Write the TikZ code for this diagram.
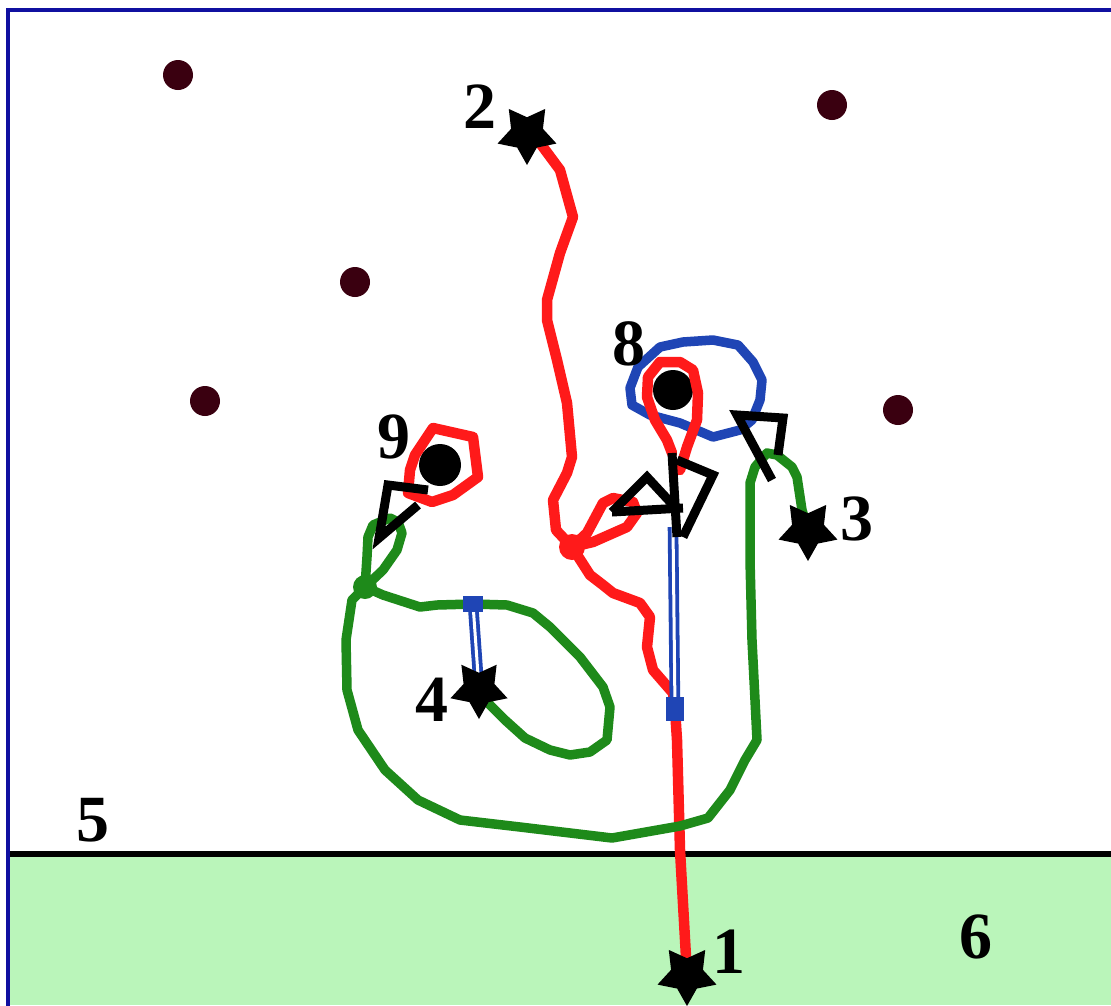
\documentclass[tikz,border=0pt]{standalone}
\usepackage{fontspec}
\setmainfont{Liberation Serif}
\usetikzlibrary{shapes.geometric}
\definecolor{framecol}{HTML}{1010A0}
\definecolor{redp}{HTML}{FF1A1A}
\definecolor{greenp}{HTML}{1E8A1A}
\definecolor{bluep}{HTML}{1F45B5}
\definecolor{dotcol}{HTML}{3A0010}
\definecolor{ground}{HTML}{BAF5BA}
\begin{document}
\begin{tikzpicture}[x=1pt,y=-1pt,
  starnode/.style={star, star points=5, star point ratio=1.85, shape border rotate=180, fill=black, minimum size=62pt, inner sep=0pt},
  numlab/.style={font=\fontsize{66}{66}\selectfont\bfseries, inner sep=0pt},
  smalldot/.style={circle, fill=dotcol, minimum size=30pt, inner sep=0pt},
  bigdot/.style={circle, fill=black, minimum size=40pt, inner sep=0pt},
  redline/.style={draw=redp, line width=10.5pt, line join=round, line cap=round},
  greenline/.style={draw=greenp, line width=9.5pt, line join=round, line cap=round},
  blueline/.style={draw=bluep, line width=9.5pt, line join=round, line cap=round},
  blackline/.style={draw=black, line width=9pt, line join=miter, line cap=butt},
  doubleblue/.style={draw=bluep, line width=3.8pt, double=white, double distance=3pt}
]
\useasboundingbox (0,0) rectangle (1111,1005);
\fill[white] (0,0) rectangle (1111,1005);
% ground
\fill[ground] (8,854) rectangle (1111,1005);
\draw[black, line width=6pt] (8,854) -- (1111,854);
% frame
\draw[framecol, line width=4pt] (8,1010) -- (8,10) -- (1120,10);

% positions
\coordinate (c1) at (687,975);
\coordinate (c2) at (527,134);
\coordinate (c3) at (808,530);
\coordinate (c4) at (479,689);
\coordinate (kr) at (572,547);
\coordinate (kg) at (365,587);
\coordinate (kb1) at (473,604);
\coordinate (kb2) at (675,709);
\coordinate (top8) at (673,527);
\coordinate (ab) at (672,453);

% small dark dots
\node[smalldot] (p1) at (178,75) {};
\node[smalldot] (p2) at (832,105) {};
\node[smalldot] (p3) at (355,282) {};
\node[smalldot] (p4) at (205,401) {};
\node[smalldot] (p5) at (898,410) {};
% big black dots
\node[bigdot] (d8) at (673,390) {};
\node[bigdot, minimum size=42pt] (d9) at (440,465) {};

% blue loop around 8
\draw[blueline] (630,388) -- (638,367) -- (660,347) -- (683,342) -- (713,340) -- (738,345) -- (753,362) -- (762,380) -- (760,400) -- (752,420) -- (740,430) -- (713,437) -- (680,423) -- (650,415) -- (632,405) -- cycle;

% red loop around 9
\draw[redline] (410,470) -- (415,455) -- (433,428) -- (473,437) -- (478,477) -- (453,495) -- (432,502) -- (408,493) -- cycle;

% red teardrop around 8
\draw[redline] (ab) -- (667,440) -- (655,420) -- (647,397) -- (648,377) -- (660,362) -- (680,362) -- (693,370) -- (698,393) -- (697,420) -- (687,447) -- (680,470);

% main red path
\draw[redline] (c2) -- (540,143) -- (560,170) -- (573,217) -- (560,253) -- (547,300) -- (547,320) -- (557,360) -- (567,403) -- (572,457) -- (567,473) -- (553,500) -- (556,530) -- (kr)
  -- (590,575) -- (603,585) -- (613,593) -- (640,603) -- (650,617) -- (647,647) -- (653,670) -- (673,693) -- (kb2) -- (677,740) -- (680,850) -- (c1);
% red loop at knot
\draw[redline] (kr) -- (587,533) -- (603,503) -- (613,498) -- (633,502) -- (637,513) -- (627,527) -- (593,542) -- cycle;
\fill[redp] (kr) circle (13pt);

% green path
\draw[greenline] (c3) -- (802,510) -- (797,477) -- (792,467) -- (777,455) -- (767,453) -- (755,467) -- (750,483) -- (750,560) -- (752,640) -- (755,700) -- (757,740) -- (745,760) -- (730,790) -- (708,818) -- (680,826) -- (612,838) -- (520,827) -- (460,820) -- (418,800) -- (385,770) -- (358,730) -- (347,690) -- (346,640) -- (352,600) -- (kg)
  -- (383,595) -- (420,607) -- (437,605) -- (kb1) -- (507,605) -- (533,613) -- (550,627) -- (580,657) -- (603,687) -- (610,707) -- (607,740) -- (590,752) -- (570,755) -- (550,750) -- (525,738) -- (505,720) -- (490,705) -- (c4);
% green loop at knot
\draw[greenline] (kg) -- (367,557) -- (368,537) -- (373,525) -- (390,518) -- (398,522) -- (402,533) -- (397,550) -- (383,570) -- cycle;
\fill[greenp] (kg) circle (12pt);

% double blue lines
\draw[doubleblue] (kb1) -- (c4);
\draw[doubleblue] (kb2) -- (top8);
\fill[bluep] (kb1) ++(-10,-8) rectangle ++(20,16);
\fill[bluep] (kb2) ++(-9,-12) rectangle ++(18,24);

% black arrow marks
\draw[blackline] (612,512) -- (647,477) -- (673,505);
\draw[blackline] (612,512) -- (683,508);
\draw[blackline] (ab) -- (677,537);
\draw[blackline] (677,460) -- (713,475) -- (683,537);
\draw[blackline] (778,455) -- (783,418) -- (737,415) -- (772,480);
\draw[blackline] (428,490) -- (388,485) -- (379,538) -- (418,505);

% stars
\node[starnode] (s1) at (c1) {};
\node[starnode] (s2) at (c2) {};
\node[starnode] (s3) at (c3) {};
\node[starnode, minimum size=60pt] (s4) at (c4) {};

% labels
\node[numlab] (l1) at (729,952) {1};
\node[numlab] (l2) at (480,107) {2};
\node[numlab] (l3) at (857,519) {3};
\node[numlab] (l4) at (432,700) {4};
\node[numlab] (l5) at (93,820) {5};
\node[numlab] (l6) at (976,937) {6};
\node[numlab] (l8) at (629,344) {8};
\node[numlab] (l9) at (394,437) {9};
\end{tikzpicture}
\end{document}
